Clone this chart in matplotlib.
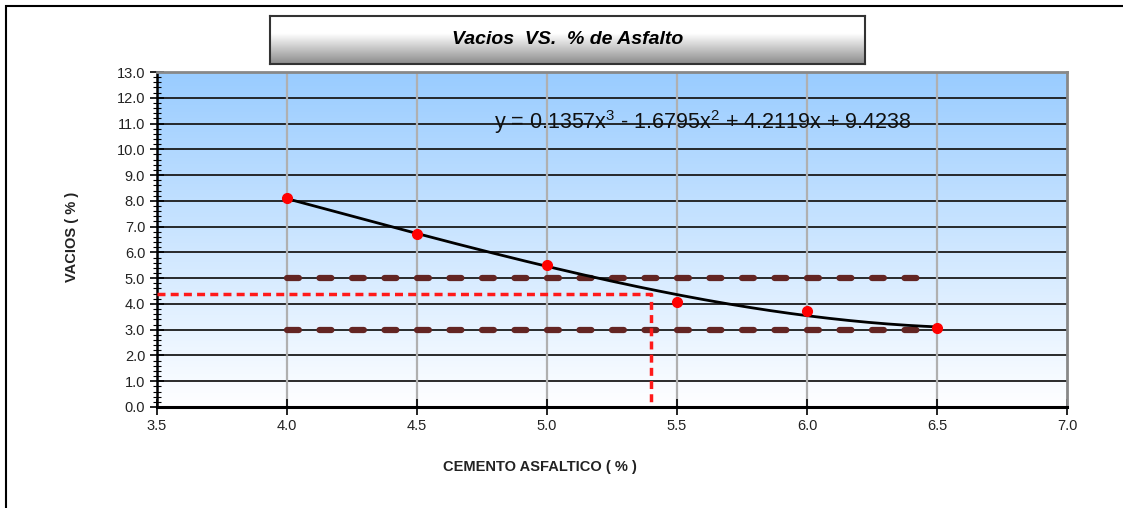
import numpy as np
import matplotlib.pyplot as plt
from matplotlib.ticker import MultipleLocator, FormatStrFormatter
from matplotlib.patches import Rectangle

# datos del ensayo
asfalto = [4.0, 4.5, 5.0, 5.5, 6.0, 6.5]
vacios = [8.1, 6.7, 5.5, 4.07, 3.72, 3.07]
coef = [0.1357, -1.6795, 4.2119, 9.4238]   # ajuste polinomico
lim_sup, lim_inf = 5.0, 3.0                # limites especificacion
lim_x = [4.0, 6.5]
optimo_x, optimo_y = 5.4, 4.38

plt.rcParams['font.family'] = ['Liberation Sans', 'DejaVu Sans']
plt.rcParams['mathtext.fontset'] = 'custom'
plt.rcParams['mathtext.rm'] = 'Liberation Sans'

fig = plt.figure(figsize=(11.23, 5.08), dpi=100)
fig.add_artist(Rectangle((6 / 1123, -0.1), 1.2, (508 - 6) / 508 + 0.1,
                         transform=fig.transFigure, fill=False,
                         edgecolor='black', lw=1.5))

ax = fig.add_axes([157 / 1123, (508 - 407) / 508, 910 / 1123, 335 / 508])
ax.set_xlim(3.5, 7.0)
ax.set_ylim(0, 13)

# fondo degradado
grad = np.linspace(0, 1, 256).reshape(-1, 1)
top = np.array([153, 204, 255]) / 255
bot = np.array([255, 255, 255]) / 255
img = top * (1 - grad[..., None]) + bot * grad[..., None]
img = img.reshape(256, 1, 3)
ax.imshow(img, extent=[3.5, 7.0, 0, 13], aspect='auto', zorder=0,
          interpolation='bilinear')

for y in range(1, 13):
    ax.axhline(y, color='#1a1a1a', lw=1.3, zorder=1)
for x in asfalto:
    ax.axvline(x, color='#b0b0b0', lw=1.6, zorder=1)

for lim in (lim_sup, lim_inf):
    ax.plot(lim_x, [lim, lim], color='#632523', lw=4.5,
            dashes=(1.9, 3.3), dash_capstyle='round', zorder=2)

ax.plot([3.5, optimo_x, optimo_x], [optimo_y, optimo_y, 0], color='#ff1a1a',
        lw=2.5, dashes=(2.3, 1.5), zorder=3)

xs = np.linspace(asfalto[0], asfalto[-1], 200)
ax.plot(xs, np.polyval(coef, xs), color='black', lw=2, zorder=4)
ax.plot(asfalto, vacios, 'o', color='#ff0000', ms=7, zorder=5)

ax.text(5.6, 11.05, 'y = 0.1357x$^{3}$ - 1.6795x$^{2}$ + 4.2119x + 9.4238',
        ha='center', va='center', fontsize=15.5, color='#111111', zorder=6)

ax.xaxis.set_major_locator(MultipleLocator(0.5))
ax.yaxis.set_major_locator(MultipleLocator(1.0))
ax.yaxis.set_minor_locator(MultipleLocator(0.2))
ax.xaxis.set_major_formatter(FormatStrFormatter('%.1f'))
ax.yaxis.set_major_formatter(FormatStrFormatter('%.1f'))
ax.tick_params(axis='both', labelsize=10.5, colors='black', labelcolor='#222222')
ax.tick_params(axis='y', which='major', direction='inout', length=10, width=1.2)
ax.tick_params(axis='y', which='minor', direction='inout', length=6, width=0.8)
ax.tick_params(axis='x', which='major', direction='inout', length=12, width=1.2, pad=3)
for s in ['top', 'right']:
    ax.spines[s].set_color('#888888')
    ax.spines[s].set_linewidth(2)
ax.spines['left'].set_color('black')
ax.spines['bottom'].set_color('black')
ax.spines['left'].set_linewidth(1.8)
ax.spines['bottom'].set_linewidth(2.2)

fig.text(540 / 1123, 1 - 467 / 508, 'CEMENTO ASFALTICO ( % )', ha='center',
         va='center', fontsize=10.5, fontweight='bold', color='#222222')
fig.text(72 / 1123, 1 - 237 / 508, 'VACIOS ( % )', ha='center', va='center',
         rotation=90, fontsize=10.5, fontweight='bold', color='#222222')

# caja del titulo
tax = fig.add_axes([270 / 1123, (508 - 64) / 508, 595 / 1123, 48 / 508])
tg = np.concatenate([np.ones(20), np.linspace(1, 0.55, 36)])
timg = np.stack([tg, tg, tg], axis=-1).reshape(-1, 1, 3)
tax.imshow(timg, extent=[0, 1, 0, 1], aspect='auto', interpolation='bilinear')
tax.set_xticks([])
tax.set_yticks([])
for s in tax.spines.values():
    s.set_color('#333333')
    s.set_linewidth(1.5)
tax.text(0.5, 0.5, 'Vacios  VS.  % de Asfalto', ha='center', va='center',
         fontsize=14, fontweight='bold', fontstyle='italic',
         transform=tax.transAxes)

fig.savefig('out.png', dpi=100)
